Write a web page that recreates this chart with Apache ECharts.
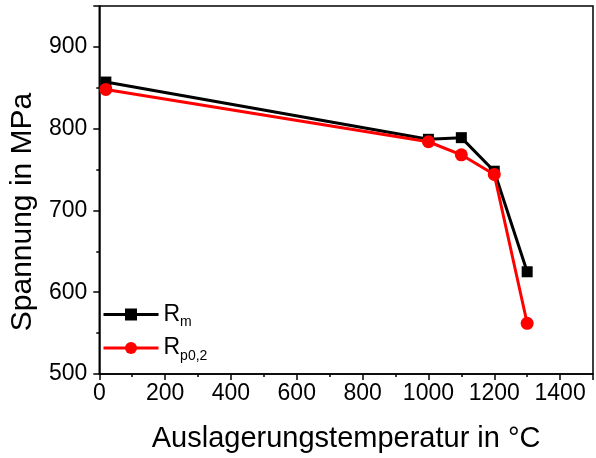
<!DOCTYPE html>
<html><head><meta charset="utf-8">
<script src="https://cdn.jsdelivr.net/npm/echarts@6/dist/echarts.min.js"></script>
<style>html,body{margin:0;padding:0;background:#fff}#c{width:596px;height:458px}</style>
</head><body><div id="c"></div>
<script>
const temps = [20, 1000, 1100, 1200, 1300];
const rm = [857, 787, 789, 748, 625];
const rp02 = [848, 784, 768, 744, 562];
const seriesNames = ['Rm', 'Rp0,2'];
const subs = {'Rm': 'm', 'Rp0,2': 'p0,2'};
const xTitle = 'Auslagerungstemperatur in °C';
const yTitle = 'Spannung in MPa';
const font = 'Liberation Sans, Arial, sans-serif';

const chart = echarts.init(document.getElementById('c'), null, {renderer: 'canvas'});
const pair = (xs, ys) => xs.map((x, i) => [x, ys[i]]);
chart.setOption({
  animation: false,
  backgroundColor: '#fff',
  grid: {left: 99, right: 1, top: 6, bottom: 83, show: true, borderColor: '#000', borderWidth: 1.5},
  xAxis: {
    type: 'value', min: 0, max: 1500, interval: 200,
    name: xTitle, nameLocation: 'middle', nameGap: 50,
    nameTextStyle: {fontFamily: font, fontSize: 29, color: '#000'},
    axisLine: {lineStyle: {color: '#000', width: 1.5}},
    axisTick: {show: true, inside: false, length: 6, lineStyle: {color: '#000', width: 1.5}},
    minorTick: {show: true, splitNumber: 2, length: 3, lineStyle: {color: '#000', width: 1.5}},
    axisLabel: {fontFamily: font, fontSize: 23, color: '#000', margin: 8,
      formatter: v => (v % 200 === 0 && v <= 1400) ? String(v) : ''},
    splitLine: {show: false}
  },
  yAxis: {
    type: 'value', min: 500, max: 950, interval: 100,
    name: yTitle, nameLocation: 'middle', nameGap: 60, nameRotate: 90,
    nameTextStyle: {fontFamily: font, fontSize: 30, color: '#000', padding: [0, 44, 0, 0]},
    axisLine: {show: true, lineStyle: {color: '#000', width: 1.5}},
    axisTick: {show: true, inside: false, length: 6, lineStyle: {color: '#000', width: 1.5}},
    minorTick: {show: true, splitNumber: 2, length: 3, lineStyle: {color: '#000', width: 1.5}},
    axisLabel: {fontFamily: font, fontSize: 23, color: '#000', margin: 12,
      formatter: v => (v % 100 === 0 && v <= 900) ? String(v) : ''},
    splitLine: {show: false}
  },
  legend: {
    orient: 'vertical', left: 97, top: 298, itemWidth: 55, itemHeight: 15, itemGap: 7,
    data: seriesNames,
    lineStyle: {width: 3},
    formatter: n => '{r|R}{s|' + subs[n] + '}',
    textStyle: {fontFamily: font, color: '#000',
      rich: {r: {fontFamily: font, fontSize: 23, color: '#000'},
             s: {fontFamily: font, fontSize: 14, color: '#000', padding: [16, 0, 0, 0]}}}
  },
  series: [
    {name: seriesNames[0], type: 'line', data: pair(temps, rm), color: '#000',
     symbol: 'rect', symbolSize: 11, lineStyle: {width: 3, color: '#000'}, itemStyle: {color: '#000'}, z: 3},
    {name: seriesNames[1], type: 'line', data: pair(temps, rp02), color: '#ff0000',
     symbol: 'circle', symbolSize: 13, lineStyle: {width: 3, color: '#ff0000'}, itemStyle: {color: '#ff0000'}, z: 4}
  ]
});
</script></body></html>
